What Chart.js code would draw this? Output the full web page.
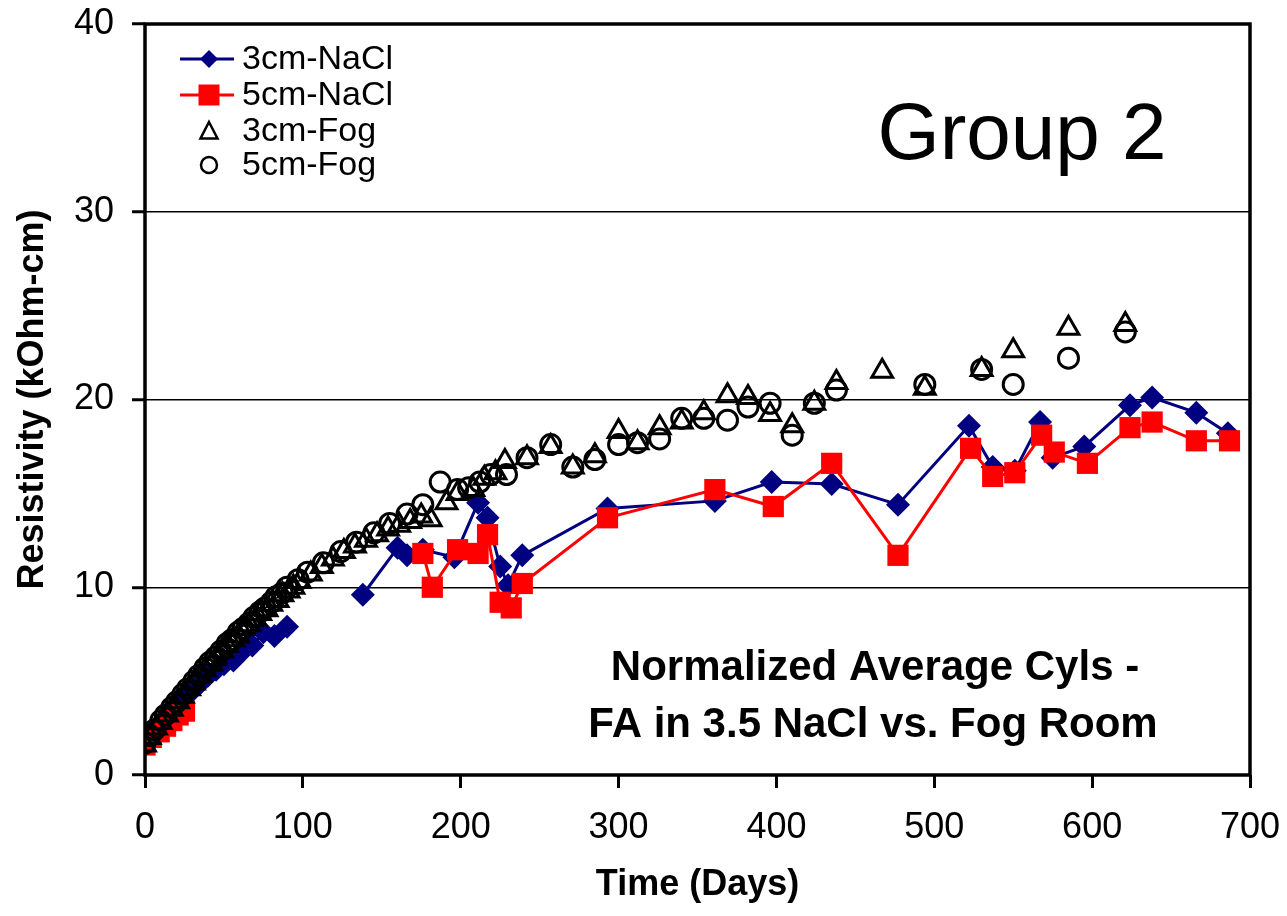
<!DOCTYPE html>
<html>
<head>
<meta charset="utf-8">
<script src="https://cdn.jsdelivr.net/npm/chart.js@4.4.0/dist/chart.umd.min.js"></script>
<style>
  html, body { margin: 0; padding: 0; background: #fff; }
</style>
</head>
<body>
<canvas id="resistivityChart" width="1287" height="916"></canvas>
<script>
// axis ticks
const xTicks = [0, 100, 200, 300, 400, 500, 600, 700];
const yTicks = [0, 10, 20, 30, 40];

// 3cm-NaCl (null = break in the line)
const nacl3Days = [0, 4, 8, 12, 16, 21, 25, 30, 35, 40, 45, 50, 56, 63, 68, 75, 82, 90, 114,
  138, 160, 166, 176, 196, 211, 217, 225, 230, 239, 293, 361, 397, 435, 477, 522, 537, 551, 567, 575, 595, 624, 638, 666, 686];
const nacl3Vals = [1.6, 2.1, 2.5, 2.9, 3.3, 3.7, 4.1, 4.5, 4.9, 5.3, 5.6, 5.9, 6.1, 6.7, 6.9, 7.6, 7.4, 7.9, null,
  9.6, 12.1, 11.7, 12.0, 11.6, 14.5, 13.7, 11.1, 10.1, 11.7, 14.2, 14.6, 15.6, 15.5, 14.4, 18.6, 16.4, 16.2, 18.8, 16.9, 17.5, 19.7, 20.1, 19.3, 18.2];

// 5cm-NaCl
const nacl5Days = [0, 4, 9, 13, 17, 21, 25, 100,
  176, 182, 198, 211, 217, 225, 232, 239, 293, 361, 398, 435, 477, 523, 537, 551, 568, 576, 597, 624, 638, 666, 687];
const nacl5Vals = [1.6, 2.0, 2.3, 2.6, 2.9, 3.2, 3.4, null,
  11.8, 10.0, 12.0, 11.8, 12.8, 9.2, 8.9, 10.2, 13.7, 15.2, 14.3, 16.6, 11.7, 17.4, 15.9, 16.1, 18.1, 17.2, 16.6, 18.5, 18.8, 17.8, 17.8];

// 3cm-Fog
const fog3Days = [0, 3, 7, 10, 14, 17, 21, 24, 28, 31, 35, 38, 42, 45, 49, 52, 56, 59, 63, 66, 70, 73, 77, 80, 84, 87, 91, 94, 98,
  105, 112, 119, 126, 133, 140, 147, 154, 161, 168, 175, 181, 191, 198, 208, 215, 222, 228, 242, 257, 271, 285,
  300, 312, 326, 340, 354, 369, 382, 396, 410, 424, 438, 467, 494, 530, 550, 585, 621];
const fog3Vals = [1.6, 2.0, 2.5, 2.8, 3.2, 3.5, 3.9, 4.2, 4.6, 4.9, 5.3, 5.6, 5.9, 6.2, 6.6, 6.9, 7.2, 7.4, 7.8, 8.0, 8.3, 8.6, 8.8, 9.1, 9.3, 9.6, 9.8, 10.0, 10.3,
  10.7, 11.1, 11.5, 11.9, 12.2, 12.5, 12.8, 13.1, 13.3, 13.5, 13.8, 13.6, 14.5, 15.0, 15.2, 15.8, 16.1, 16.7, 16.9, 17.5, 16.4, 17.0,
  18.3, 17.7, 18.5, 18.8, 19.3, 20.2, 20.1, 19.2, 18.6, 19.8, 20.9, 21.5, 20.6, 21.6, 22.6, 23.8, 24.0];

// 5cm-Fog
const fog5Days = [0, 3, 6, 10, 13, 17, 20, 24, 27, 31, 34, 38, 41, 45, 48, 52, 55, 59, 62, 66, 69, 73, 76, 80, 83, 87, 90,
  97, 103, 113, 124, 134, 145, 155, 166, 176, 187, 198, 205, 212, 219, 229, 242, 257, 271, 285,
  300, 312, 326, 340, 354, 369, 382, 396, 410, 424, 438, 494, 530, 550, 585, 621];
const fog5Vals = [1.7, 2.1, 2.4, 2.9, 3.2, 3.6, 3.9, 4.3, 4.6, 5.0, 5.3, 5.7, 6.0, 6.3, 6.6, 7.0, 7.2, 7.6, 7.8, 8.1, 8.4, 8.7, 8.9, 9.2, 9.5, 9.7, 10.0,
  10.4, 10.8, 11.3, 11.9, 12.4, 12.9, 13.4, 13.9, 14.4, 15.6, 15.2, 15.3, 15.6, 16.0, 16.0, 16.9, 17.6, 16.4, 16.8,
  17.6, 17.7, 17.9, 19.0, 19.0, 18.9, 19.6, 19.8, 18.1, 19.8, 20.5, 20.8, 21.6, 20.8, 22.2, 23.6];

const FONT = '"Liberation Sans", Arial, sans-serif';
const NAVY = '#000080';
const RED = '#ff0000';

function toPoints(days, vals) {
  return days.map((d, i) => ({ x: d, y: vals[i] }));
}

// plot frame drawn as a box round the chart area
const framePlugin = {
  id: 'frame',
  afterDatasetsDraw(chart) {
    const { ctx, chartArea: a } = chart;
    ctx.save();
    ctx.strokeStyle = '#000';
    ctx.lineWidth = 3.5;
    ctx.strokeRect(a.left, a.top, a.right - a.left, a.bottom - a.top);
    ctx.restore();
  }
};

// legend and the two text boxes
const textPlugin = {
  id: 'texts',
  afterDraw(chart) {
    const ctx = chart.ctx;
    ctx.save();

    // legend
    const rows = [59, 95, 131, 165];
    const labels = ['3cm-NaCl', '5cm-NaCl', '3cm-Fog', '5cm-Fog'];
    const mx = 209;
    ctx.lineWidth = 3;
    ctx.strokeStyle = NAVY;
    ctx.beginPath(); ctx.moveTo(180, rows[0]); ctx.lineTo(234, rows[0]); ctx.stroke();
    ctx.fillStyle = NAVY;
    ctx.beginPath();
    ctx.moveTo(mx - 9, rows[0]); ctx.lineTo(mx, rows[0] - 9); ctx.lineTo(mx + 9, rows[0]); ctx.lineTo(mx, rows[0] + 9);
    ctx.closePath(); ctx.fill();

    ctx.strokeStyle = RED;
    ctx.beginPath(); ctx.moveTo(180, rows[1]); ctx.lineTo(234, rows[1]); ctx.stroke();
    ctx.fillStyle = RED;
    ctx.fillRect(mx - 10.5, rows[1] - 10.5, 21, 21);

    ctx.strokeStyle = '#000';
    ctx.lineWidth = 2.5;
    ctx.beginPath();
    ctx.moveTo(mx, rows[2] - 9); ctx.lineTo(mx + 8.5, rows[2] + 7.5); ctx.lineTo(mx - 8.5, rows[2] + 7.5);
    ctx.closePath(); ctx.stroke();
    ctx.beginPath(); ctx.arc(mx, rows[3], 8, 0, Math.PI * 2); ctx.stroke();

    ctx.fillStyle = '#000';
    ctx.font = '34px ' + FONT;
    ctx.textAlign = 'left';
    ctx.textBaseline = 'middle';
    labels.forEach((t, i) => ctx.fillText(t, 242, rows[i] + 1));

    // group label
    ctx.font = '80px ' + FONT;
    ctx.textAlign = 'center';
    ctx.textBaseline = 'alphabetic';
    ctx.fillText('Group 2', 1022, 159);

    // description
    ctx.font = 'bold 42px ' + FONT;
    ctx.fillText('Normalized Average Cyls -', 875, 680);
    ctx.fillText('FA in 3.5 NaCl vs. Fog Room', 873, 737);

    ctx.restore();
  }
};

const ctx = document.getElementById('resistivityChart').getContext('2d');

const chart = new Chart(ctx, {
  type: 'scatter',
  data: {
    datasets: [
      {
        label: '3cm-NaCl',
        data: toPoints(nacl3Days, nacl3Vals),
        showLine: true,
        borderColor: NAVY,
        backgroundColor: NAVY,
        borderWidth: 3,
        pointStyle: 'rectRot',
        pointRadius: 12,
        pointBorderWidth: 0,
        order: 4
      },
      {
        label: '5cm-NaCl',
        data: toPoints(nacl5Days, nacl5Vals),
        showLine: true,
        borderColor: RED,
        backgroundColor: RED,
        borderWidth: 3,
        pointStyle: 'rect',
        pointRadius: 15,
        pointBorderWidth: 0,
        order: 3
      },
      {
        label: '3cm-Fog',
        data: toPoints(fog3Days, fog3Vals),
        showLine: false,
        borderColor: '#000',
        backgroundColor: 'rgba(0,0,0,0)',
        pointStyle: 'triangle',
        pointRadius: 12,
        pointBorderWidth: 3,
        order: 2
      },
      {
        label: '5cm-Fog',
        data: toPoints(fog5Days, fog5Vals),
        showLine: false,
        borderColor: '#000',
        backgroundColor: 'rgba(0,0,0,0)',
        pointStyle: 'circle',
        pointRadius: 10,
        pointBorderWidth: 3,
        order: 1
      }
    ]
  },
  options: {
    responsive: false,
    animation: false,
    layout: { padding: { left: 0, top: 24, right: 37, bottom: 0 } },
    plugins: {
      legend: { display: false },
      tooltip: { enabled: false }
    },
    scales: {
      x: {
        type: 'linear',
        min: 0,
        max: 700,
        afterFit(scale) {
          scale.height = 141;
          scale.paddingLeft = 0;
          scale.paddingRight = 0;
        },
        afterBuildTicks(scale) { scale.ticks = xTicks.map(v => ({ value: v })); },
        border: { display: false },
        grid: { drawOnChartArea: false, drawTicks: true, tickLength: 13, tickWidth: 3, tickColor: '#000' },
        ticks: { color: '#000', padding: 18, font: { family: FONT, size: 36 } },
        title: {
          display: true,
          text: 'Time (Days)',
          color: '#000',
          padding: { top: 0, bottom: 9 },
          font: { family: FONT, size: 36, weight: 'bold' }
        }
      },
      y: {
        type: 'linear',
        min: 0,
        max: 40,
        afterFit(scale) {
          scale.width = 145;
          scale.paddingTop = 0;
          scale.paddingBottom = 0;
        },
        afterBuildTicks(scale) { scale.ticks = yTicks.map(v => ({ value: v })); },
        border: { display: false },
        grid: { color: '#000', lineWidth: 1.5, tickLength: 13, tickWidth: 3, tickColor: '#000' },
        ticks: { color: '#000', padding: 18, font: { family: FONT, size: 36 } },
        title: {
          display: true,
          text: 'Resistivity (kOhm-cm)',
          color: '#000',
          padding: { top: 11, bottom: 0 },
          font: { family: FONT, size: 36, weight: 'bold' }
        }
      }
    }
  },
  plugins: [framePlugin, textPlugin]
});
</script>
</body>
</html>
